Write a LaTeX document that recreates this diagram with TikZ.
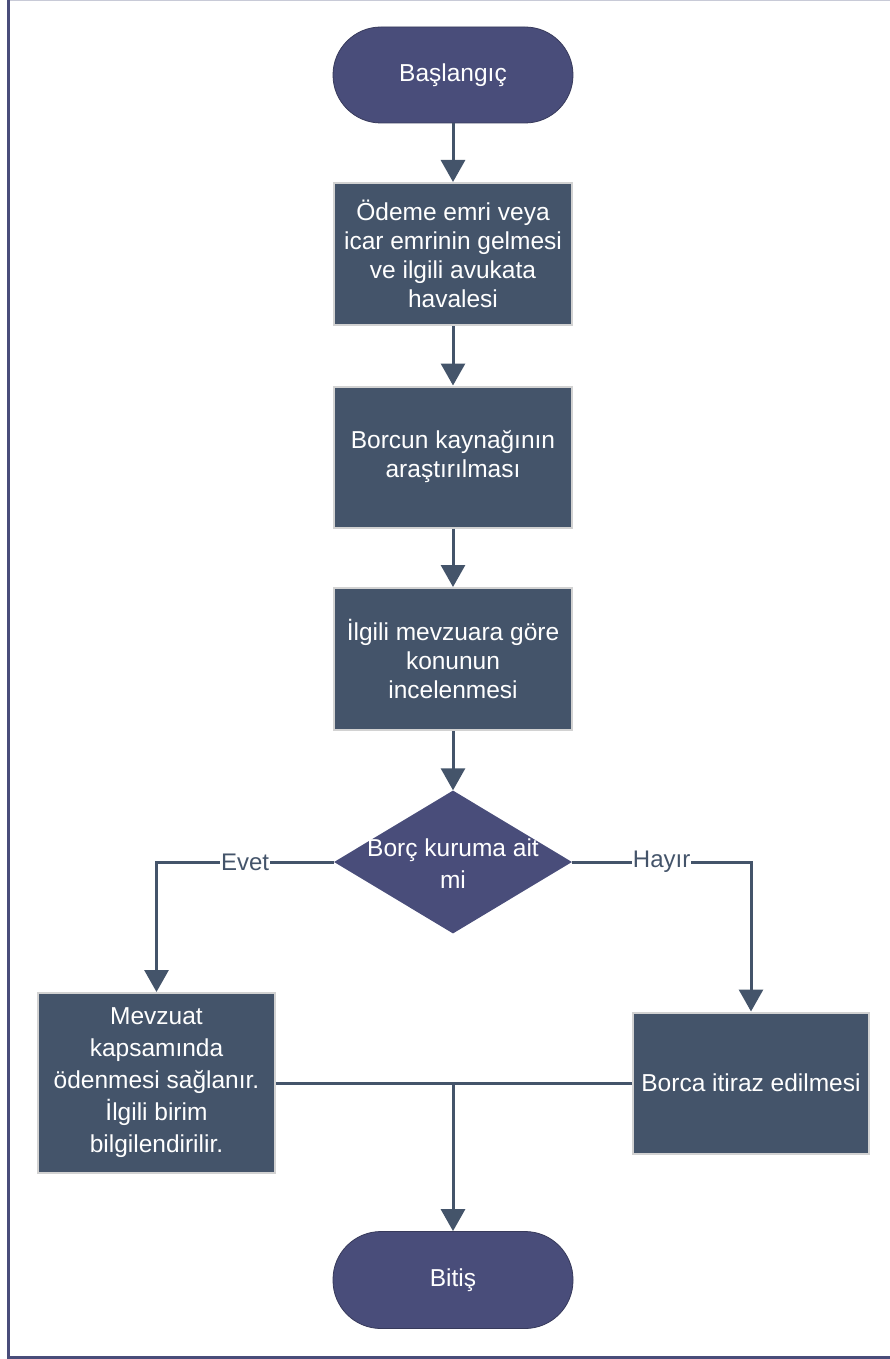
\documentclass[tikz,border=0pt]{standalone}
\usepackage{fontspec}
\setmainfont{Liberation Sans}
\usetikzlibrary{arrows.meta,shapes.geometric}

\definecolor{termfill}{HTML}{494D7A}
\definecolor{boxfill}{HTML}{44546A}
\definecolor{boxedge}{HTML}{D2D2D2}

\tikzset{
	terminal/.style={draw=termfill!75!black, line width=0.8pt, fill=termfill, rounded corners=48pt,
		minimum width=240pt, minimum height=96pt, text=white, font=\fontsize{24.5}{29}\selectfont},
	process/.style={draw=boxedge, line width=2pt, fill=boxfill, minimum width=238pt, text=white,
		align=center, inner sep=0pt, font=\fontsize{24.5}{29}\selectfont},
	decision/.style={diamond, fill=termfill, minimum width=238pt, minimum height=143pt, inner sep=0pt},
	hat/.style={draw=boxfill, line width=3pt},
	akis/.style={hat, -{Triangle[width=24pt,length=22pt]}},
	etiket/.style={fill=white, text=boxfill, inner sep=1pt, font=\fontsize{24}{29}\selectfont}
}

\begin{document}
\begin{tikzpicture}[x=1pt, y=-1pt]
	\useasboundingbox (0,0) rectangle (890,1359);

	% Draw page frame
	\draw[termfill!30, line width=1pt] (8,0.5) -- (890,0.5);
	\draw[termfill, line width=3pt] (8,0) -- (8,1357) -- (890,1357);

	% Draw nodes
	\node[terminal] (basla) at (453,75) {Başlangıç};
	\node[process, minimum height=142pt] (emir) at (453,254) {Ödeme emri veya\\icar emrinin gelmesi\\ve ilgili avukata\\havalesi};
	\node[process, minimum height=141pt] (kaynak) at (453,457) {Borcun kaynağının\\araştırılması};
	\node[process, minimum height=142pt] (mevzuat) at (453,659) {İlgili mevzuara göre\\konunun\\incelenmesi};
	\node[decision] (karar) at (453,862) {};
	\node[text=white, align=center, font=\fontsize{24.5}{32}\selectfont] (karartext) at (453,864) {Borç kuruma ait\\mi};
	\node[process, minimum width=237pt, minimum height=180pt, font=\fontsize{24.5}{32}\selectfont] (odeme) at (156.5,1083) {Mevzuat\\kapsamında\\ödenmesi sağlanır.\\İlgili birim\\bilgilendirilir.};
	\node[process, minimum width=236pt, minimum height=141pt] (itiraz) at (751,1083) {Borca itiraz edilmesi};
	\node[terminal, minimum height=97pt] (bitis) at (453,1280) {Bitiş};
	\coordinate (birles) at (453,1083);

	% Draw connectors
	\draw[akis] (basla) -- (emir);
	\draw[akis] (emir) -- (kaynak);
	\draw[akis] (kaynak) -- (mevzuat);
	\draw[akis] (mevzuat) -- (karar);
	\draw[akis] (karar.west) -| node[etiket, pos=0.25] {Evet} (odeme.north);
	\draw[akis] (karar.east) -| node[etiket, pos=0.25] {Hayır} (itiraz.north);
	\draw[hat] (odeme.east) -- (itiraz.west);
	\draw[akis] (birles) -- (bitis);
\end{tikzpicture}
\end{document}
